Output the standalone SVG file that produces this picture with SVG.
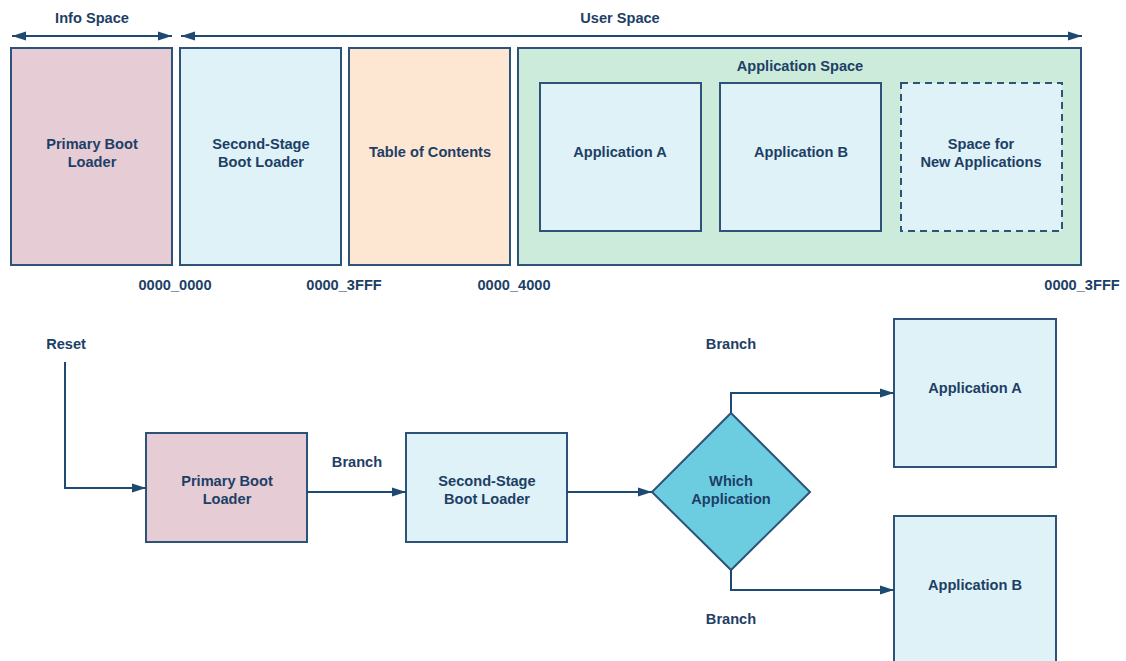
<svg xmlns="http://www.w3.org/2000/svg" width="1126" height="661" viewBox="0 0 1126 661">
  <style>
    text { font-family: "Liberation Sans", Arial, sans-serif; font-weight: bold; font-size: 14.6px; fill: #1d3f66; text-anchor: middle; }
    .box { stroke: #2d5378; stroke-width: 2; }
    .pink { fill: #e5ccd5; }
    .blue { fill: #dff2f7; }
    .peach { fill: #fde6d2; }
    .green { fill: #cdebdb; }
    .dash { stroke-dasharray: 7 5; }
    .wire { fill: none; stroke: #1e4a72; stroke-width: 2; }
  </style>
  <defs>
    <marker id="ah" viewBox="0 0 14 10" refX="14" refY="5" markerWidth="14" markerHeight="10" markerUnits="userSpaceOnUse" orient="auto-start-reverse">
      <path d="M0,0.5 L14,5 L0,9.5 Z" fill="#1e4a72"/>
    </marker>
  </defs>

  <!-- memory map -->
  <g id="info-space-label"><text x="92" y="23">Info Space</text></g>
  <g id="user-space-label"><text x="620" y="23">User Space</text></g>

  <g id="map-primary"><rect class="box pink" x="11" y="48" width="161" height="217"/><text x="92" y="149">Primary Boot</text><text x="92" y="167">Loader</text></g>
  <g id="map-second"><rect class="box blue" x="180" y="48" width="161" height="217"/><text x="261" y="149">Second-Stage</text><text x="261" y="167">Boot Loader</text></g>
  <g id="map-toc"><rect class="box peach" x="349" y="48" width="161" height="217"/><text x="430" y="157">Table of Contents</text></g>
  <g id="map-appspace"><rect class="box green" x="518" y="48" width="563" height="217"/><text x="800" y="71">Application Space</text></g>
  <g id="map-app-a"><rect class="box blue" x="540" y="83" width="161" height="148"/><text x="620" y="157">Application A</text></g>
  <g id="map-app-b"><rect class="box blue" x="720" y="83" width="161" height="148"/><text x="801" y="157">Application B</text></g>
  <g id="map-new"><rect class="box blue dash" x="901" y="83" width="161" height="148"/><text x="981" y="149">Space for</text><text x="981" y="167">New Applications</text></g>

  <g id="addresses">
    <text x="175" y="290">0000_0000</text>
    <text x="344" y="290">0000_3FFF</text>
    <text x="514" y="290">0000_4000</text>
    <text x="1082" y="290">0000_3FFF</text>
  </g>

  <!-- boot flow -->
  <g id="flow-primary"><rect class="box pink" x="146" y="433" width="161" height="109"/><text x="227" y="486">Primary Boot</text><text x="227" y="504">Loader</text></g>
  <g id="flow-second"><rect class="box blue" x="406" y="433" width="161" height="109"/><text x="487" y="486">Second-Stage</text><text x="487" y="504">Boot Loader</text></g>
  <g id="flow-which"><polygon class="box" fill="#6ccde0" points="731,413 810,492 731,570 652,492"/><text x="731" y="486">Which</text><text x="731" y="504">Application</text></g>
  <g id="flow-app-a"><rect class="box blue" x="894" y="319" width="162" height="148"/><text x="975" y="393">Application A</text></g>
  <g id="flow-app-b"><rect class="box blue" x="894" y="516" width="162" height="150"/><text x="975" y="590">Application B</text></g>

  <g id="labels">
    <text x="66" y="349">Reset</text>
    <text x="357" y="467">Branch</text>
    <text x="731" y="349">Branch</text>
    <text x="731" y="624">Branch</text>
  </g>

  <g id="connectors">
    <path class="wire" d="M12,36 H172" marker-start="url(#ah)" marker-end="url(#ah)"/>
    <path class="wire" d="M181,36 H1082" marker-start="url(#ah)" marker-end="url(#ah)"/>
    <path class="wire" d="M65,362 V488 H146" marker-end="url(#ah)"/>
    <path class="wire" d="M307,492 H406" marker-end="url(#ah)"/>
    <path class="wire" d="M567,492 H652" marker-end="url(#ah)"/>
    <path class="wire" d="M731,413 V393 H894" marker-end="url(#ah)"/>
    <path class="wire" d="M731,570 V590 H894" marker-end="url(#ah)"/>
  </g>
</svg>
